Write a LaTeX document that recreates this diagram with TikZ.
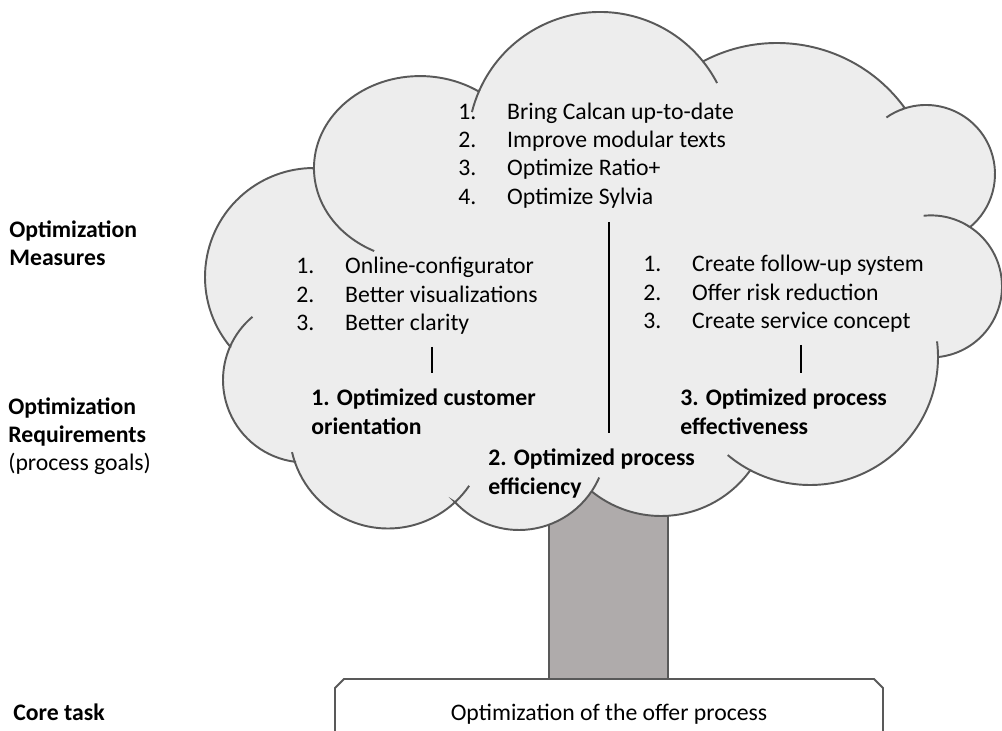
\documentclass[tikz,border=0pt]{standalone}
\usepackage{fontspec}
\setmainfont{Carlito}
\usetikzlibrary{calc}

\definecolor{cloudgray}{HTML}{EDEDED}
\definecolor{edgegray}{HTML}{595959}
\definecolor{trunkgray}{HTML}{AFABAB}

% number column of the lists
\newcommand{\itm}[1]{\makebox[27.8pt][l]{#1}}

\begin{document}
\begin{tikzpicture}[x=0.02cm, y=0.02cm,
        every node/.style={font=\fontsize{13.5}{16.2}\selectfont, inner sep=0pt},
        txt/.style={anchor=base west, align=left},
        outline/.style={draw=edgegray, line width=1.1pt},
        link/.style={line width=0.6pt}]
        \useasboundingbox (0,0) rectangle (1002,731);

        % Trunk and core task box
        \draw[outline, fill=trunkgray] (549,52) rectangle (668,265);
        \draw[outline, fill=white] (335,-10) -- (335,43) -- (344,52) -- (874,52) -- (883,43) -- (883,-10);

        % Cloud: one arc per bump, clockwise from the top bump
        \path[outline, fill=cloudgray]
            ($(600,587)+(155.8:132)$) arc[start angle=155.8, end angle=38.9, radius=132]
            -- ($(777,530)+(117.9:158)$) arc[start angle=117.9, end angle=36.4, radius=158]
            -- ($(926,557)+(109.2:69)$) arc[start angle=109.2, end angle=-50.3, radius=69]
            -- ($(931,444.6)+(56.7:71)$) arc[start angle=56.7, end angle=-84.3, radius=71]
            -- ($(810,374)+(0:128)$) arc[start angle=0, end angle=-118, radius=128]
            -- ($(661,325)+(-35.7:110)$) arc[start angle=-35.7, end angle=-129.1, radius=110]
            -- ($(519,288.5)+(-33.6:87.5)$) arc[start angle=-33.6, end angle=-137.1, radius=87.5]
            -- ($(388,301)+(-47.1:98.5)$) arc[start angle=-47.1, end angle=-160.5, radius=98.5]
            -- ($(305.5,351)+(262.8:82.5)$) arc[start angle=262.8, end angle=156.4, radius=82.5]
            -- ($(314,454)+(219.8:109)$) arc[start angle=219.8, end angle=90.5, radius=109]
            -- (314,561) arc[start angle=181.2, end angle=56.5, x radius=106, y radius=92]
            -- cycle;

        % Cloud: short arcs inside where the bumps overlap
        \draw[outline] ($(600,587)+(155.8:132)$) arc[start angle=155.8, end angle=166, radius=132];
        \draw[outline] ($(600,587)+(38.9:132)$) arc[start angle=38.9, end angle=27.5, radius=132];
        \draw[outline] ($(926,557)+(109.2:69)$) arc[start angle=109.2, end angle=125, radius=69];
        \draw[outline] ($(931,444.6)+(56.7:71)$) arc[start angle=56.7, end angle=96, radius=71];
        \draw[outline] ($(810,374)+(0:128)$) arc[start angle=0, end angle=7, radius=128];
        \draw[outline] ($(810,374)+(-118:128)$) arc[start angle=-118, end angle=-130, radius=128];
        \draw[outline] ($(519,288.5)+(-33.6:87.5)$) arc[start angle=-33.6, end angle=-23.6, radius=87.5];
        \draw[outline] ($(388,301)+(-47.1:98.5)$) arc[start angle=-47.1, end angle=-34.5, radius=98.5];
        \draw[outline] ($(388,301)+(-160.5:98.5)$) arc[start angle=-160.5, end angle=-167, radius=98.5];
        \draw[outline] ($(305.5,351)+(156.4:82.5)$) arc[start angle=156.4, end angle=130, radius=82.5];
        \draw[outline] (314,561) arc[start angle=181.2, end angle=244.4, x radius=106, y radius=92];

        % Levels on the left (base = last line)
        \node[txt, font=\fontsize{13.5}{15.9}\selectfont\bfseries] (measures) at (9,465.3) {Optimization\\Measures};
        \node[txt, font=\fontsize{13.5}{15.9}\selectfont] (requirements) at (8,260.2) {\textbf{Optimization}\\\textbf{Requirements}\\(process goals)};
        \node[txt, font=\fontsize{13.5}{16.2}\selectfont\bfseries] (core) at (13,10.3) {Core task};
        \node[anchor=base] (task) at (609,10.3) {Optimization of the offer process};

        % Measures
        \node[txt] (toplist) at (458,526.6) {\itm{1.}Bring Calcan up-to-date\\\itm{2.}Improve modular texts\\\itm{3.}Optimize Ratio+\\\itm{4.}Optimize Sylvia};
        \node[txt] (leftlist) at (296,400.2) {\itm{1.}Online-configurator\\\itm{2.}Better visualizations\\\itm{3.}Better clarity};
        \node[txt] (rightlist) at (643,402.4) {\itm{1.}Create follow-up system\\\itm{2.}Offer risk reduction\\\itm{3.}Create service concept};

        % Process goals
        \node[txt, font=\fontsize{13.5}{16.4}\selectfont\bfseries] (goalone) at (311,296.4) {1. Optimized customer\\orientation};
        \node[txt, font=\fontsize{13.5}{16.4}\selectfont\bfseries] (goaltwo) at (488,236.4) {2. Optimized process\\efficiency};
        \node[txt, font=\fontsize{13.5}{16.4}\selectfont\bfseries] (goalthree) at (680,296.4) {3. Optimized process\\effectiveness};

        % Links between measures and goals
        \coordinate (linkone-a) at (432,384);
        \coordinate (linkone-b) at (432,358);
        \coordinate (linktwo-a) at (609,509);
        \coordinate (linktwo-b) at (609,298);
        \coordinate (linkthree-a) at (801,386);
        \coordinate (linkthree-b) at (801,358);
        \draw[link] (linkone-a) -- (linkone-b);
        \draw[link] (linktwo-a) -- (linktwo-b);
        \draw[link] (linkthree-a) -- (linkthree-b);
    \end{tikzpicture}
\end{document}
